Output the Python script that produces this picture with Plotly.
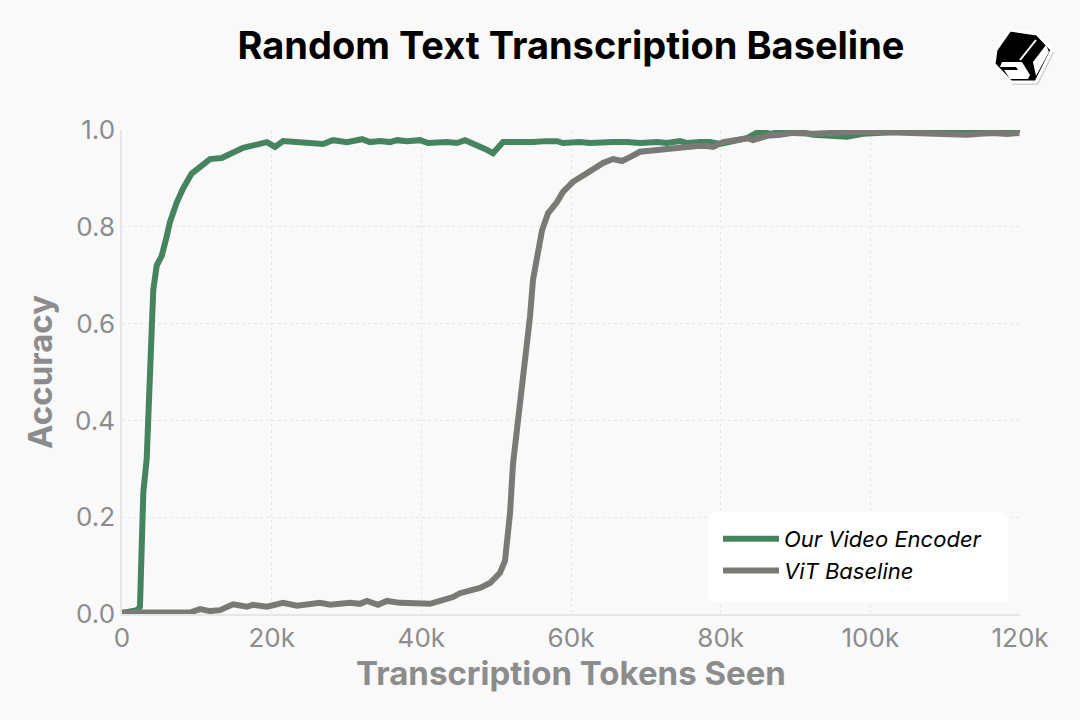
import plotly.graph_objects as go

# Data (x in thousands of tokens)
enc_x = [0, 2.0, 2.4, 2.63, 2.85, 3.3, 3.51, 3.74, 3.97, 4.18, 4.64, 5.31, 5.97, 6.41, 7.31, 8.19,
         9.31, 10.65, 11.76, 13.32, 14.87, 16.17, 19.38, 20.45, 21.52, 23.39, 25.52, 26.86, 28.2,
         30.07, 32.07, 33.14, 34.48, 35.81, 36.75, 38.09, 39.82, 40.89, 43.43, 44.77, 45.84, 47.44,
         48.51, 49.58, 50.92, 52.25, 54.12, 54.92, 56.8, 58.13, 58.93, 61.2, 62.54, 64.28, 65.62,
         67.49, 69.22, 71.5, 72.83, 74.57, 75.5, 77.24, 78.58, 79.91, 81.25, 83.52, 85.26, 86.6,
         87.93, 90.2, 92.34, 94.61, 96.89, 99.02, 101.3, 103.0, 105.7, 108.4, 111.1, 113.7, 116.4,
         119.1, 120.0]
enc_y = [0.002, 0.008, 0.015, 0.163, 0.252, 0.32, 0.40, 0.53, 0.62, 0.67, 0.72, 0.74, 0.78, 0.81,
         0.85, 0.88, 0.91, 0.928, 0.94, 0.942, 0.952, 0.963, 0.975, 0.965, 0.977, 0.975, 0.971,
         0.971, 0.979, 0.975, 0.981, 0.975, 0.977, 0.975, 0.979, 0.977, 0.979, 0.973, 0.975, 0.973,
         0.979, 0.969, 0.961, 0.952, 0.975, 0.975, 0.973, 0.975, 0.977, 0.977, 0.973, 0.975, 0.973,
         0.975, 0.975, 0.975, 0.973, 0.975, 0.973, 0.977, 0.973, 0.975, 0.975, 0.971, 0.975, 0.983,
         0.998, 0.992, 0.996, 0.998, 0.99, 0.988, 0.986, 0.992, 0.994, 0.994, 0.996, 1.0, 0.998,
         1.0, 0.998, 1.0, 1.0]

vit_x = [0, 9.09, 10.42, 11.76, 13.1, 14.83, 16.7, 17.5, 19.38, 21.52, 23.39, 26.46, 27.8, 30.47,
         31.8, 32.74, 34.21, 35.41, 37.15, 38.89, 41.16, 42.5, 44.23, 45.17, 47.84, 49.18, 50.51,
         51.18, 51.85, 52.25, 52.52, 52.92, 53.45, 53.85, 54.12, 54.52, 54.92, 55.46, 56.13, 56.93,
         58.13, 58.93, 60.27, 62.14, 63.21, 64.28, 65.62, 66.82, 67.89, 69.22, 70.56, 71.9, 73.24,
         74.97, 76.85, 78.18, 78.99, 80.32, 82.19, 83.52, 84.32, 86.2, 87.93, 89.67, 92.34, 94.61,
         97.69, 101.3, 105.7, 108.4, 111.1, 112.9, 114.7, 116.4, 118.3, 119.9]
vit_y = [0.003, 0.003, 0.01, 0.006, 0.008, 0.02, 0.015, 0.019, 0.015, 0.023, 0.017, 0.023, 0.019,
         0.023, 0.021, 0.027, 0.019, 0.027, 0.023, 0.021, 0.021, 0.027, 0.035, 0.043, 0.054, 0.064,
         0.085, 0.11, 0.208, 0.31, 0.345, 0.40, 0.457, 0.518, 0.56, 0.614, 0.69, 0.731, 0.793,
         0.828, 0.851, 0.872, 0.893, 0.911, 0.921, 0.932, 0.94, 0.936, 0.944, 0.955, 0.957, 0.959,
         0.963, 0.965, 0.967, 0.967, 0.965, 0.975, 0.979, 0.983, 0.979, 0.988, 0.99, 0.994, 0.992,
         0.994, 0.996, 0.996, 0.994, 0.992, 0.99, 0.99, 0.992, 0.994, 0.992, 0.994]

series_names = ["Our Video Encoder", "ViT Baseline"]
x_tick_vals = [0, 20000, 40000, 60000, 80000, 100000, 120000]
x_tick_text = ["0", "20k", "40k", "60k", "80k", "100k", "120k"]
y_tick_vals = [0.0, 0.2, 0.4, 0.6, 0.8, 1.0]

GREEN = "#45845f"
GRAY = "#7a7976"
BG = "#f9f9f9"
FONT = "Inter, Roboto, sans-serif"
AX = "#8c8c8c"

fig = go.Figure()
fig.add_trace(go.Scatter(x=[v * 1000 for v in enc_x], y=enc_y, mode="lines",
                         name=series_names[0], line=dict(color=GREEN, width=6)))
fig.add_trace(go.Scatter(x=[v * 1000 for v in vit_x], y=vit_y, mode="lines",
                         name=series_names[1], line=dict(color=GRAY, width=6)))

L, R, T, B = 122, 60, 130, 106
W, H = 1080, 720
pw, ph = W - L - R, H - T - B


def px(xp):
    return (xp - L) / pw


def py(yp):
    return (H - B - yp) / ph


def poly(points):
    return "M " + " L ".join(f"{px(a):.5f},{py(b):.5f}" for a, b in points) + " Z"


def rounded_rect(x0, y0, x1, y1, r):
    # rounded rectangle in pixel coords -> paper path
    p = lambda a, b: f"{px(a):.5f},{py(b):.5f}"
    return (f"M {p(x0 + r, y0)} L {p(x1 - r, y0)} Q {p(x1, y0)} {p(x1, y0 + r)} "
            f"L {p(x1, y1 - r)} Q {p(x1, y1)} {p(x1 - r, y1)} L {p(x0 + r, y1)} "
            f"Q {p(x0, y1)} {p(x0, y1 - r)} L {p(x0, y0 + r)} Q {p(x0, y0)} {p(x0 + r, y0)} Z")


# logo: black cube icon with white outline (decorative)
hexpts = [(1010, 30), (1037, 34), (1052, 50), (1036, 82), (1011, 82), (994, 64), (996, 50)]
shapes = [
    # legend panel
    dict(type="path", xref="paper", yref="paper", layer="above",
         path=rounded_rect(708, 512, 1008, 602, 8), fillcolor="white", line=dict(width=0)),
    dict(type="path", xref="paper", yref="paper", path=poly([(a + 2, b + 3) for a, b in hexpts]),
         fillcolor="rgba(0,0,0,0.15)", line=dict(width=0)),
    dict(type="path", xref="paper", yref="paper", path=poly(hexpts),
         fillcolor="black", line=dict(color="white", width=3)),
    dict(type="path", xref="paper", yref="paper",
         path=poly([(1033, 62), (1046, 45), (1049, 52), (1036, 76)]),
         fillcolor="white", line=dict(width=0)),
    dict(type="path", xref="paper", yref="paper",
         path=poly([(1002, 62), (1022, 62), (1030, 75), (1028, 79), (1010, 79), (1004, 70),
                    (1018, 70), (1016, 67), (1000, 67)]),
         fillcolor="white", line=dict(width=0)),
    dict(type="line", xref="paper", yref="paper", x0=px(1020), y0=py(60), x1=px(1036), y1=py(40),
         line=dict(color="white", width=2)),
]

fig.update_layout(
    width=W, height=H,
    margin=dict(l=L, r=R, t=T, b=B),
    paper_bgcolor=BG, plot_bgcolor=BG,
    font=dict(family=FONT, color=AX),
    title=dict(text="<b>Random Text Transcription Baseline</b>", x=571 / W, xanchor="center",
               y=1 - 46 / H, yanchor="middle",
               font=dict(family=FONT, size=38, color="black")),
    xaxis=dict(range=[0, 120000], tickvals=x_tick_vals, ticktext=x_tick_text,
               showgrid=True, gridcolor="#e6e6e6", griddash="dot", gridwidth=1,
               showline=True, linecolor="#e6e6e6", linewidth=1.5, zeroline=False,
               ticks="", tickfont=dict(size=26, color=AX),
               title=dict(text="<b>Transcription Tokens Seen</b>",
                          font=dict(size=33, color=AX), standoff=10)),
    yaxis=dict(range=[0, 1.0], tickvals=y_tick_vals, tickformat=".1f",
               showgrid=True, gridcolor="#e6e6e6", griddash="dot", gridwidth=1,
               showline=True, linecolor="#e6e6e6", linewidth=1.5, zeroline=False,
               ticks="", tickfont=dict(size=26, color=AX),
               title=dict(text="<b>Accuracy</b>", font=dict(size=33, color=AX),
                          standoff=12)),
    legend=dict(x=px(718), y=py(518), xanchor="left", yanchor="top",
                bgcolor="rgba(0,0,0,0)", borderwidth=0,
                font=dict(family=FONT, size=22, color="black", style="italic"),
                itemwidth=56),
    shapes=shapes,
    showlegend=True,
)

fig.write_html(
    "out.html",
    config={"displayModeBar": False},
    post_script="document.body.style.margin='0';document.body.style.background='%s';"
                "document.documentElement.style.background='%s';" % (BG, BG),
)
